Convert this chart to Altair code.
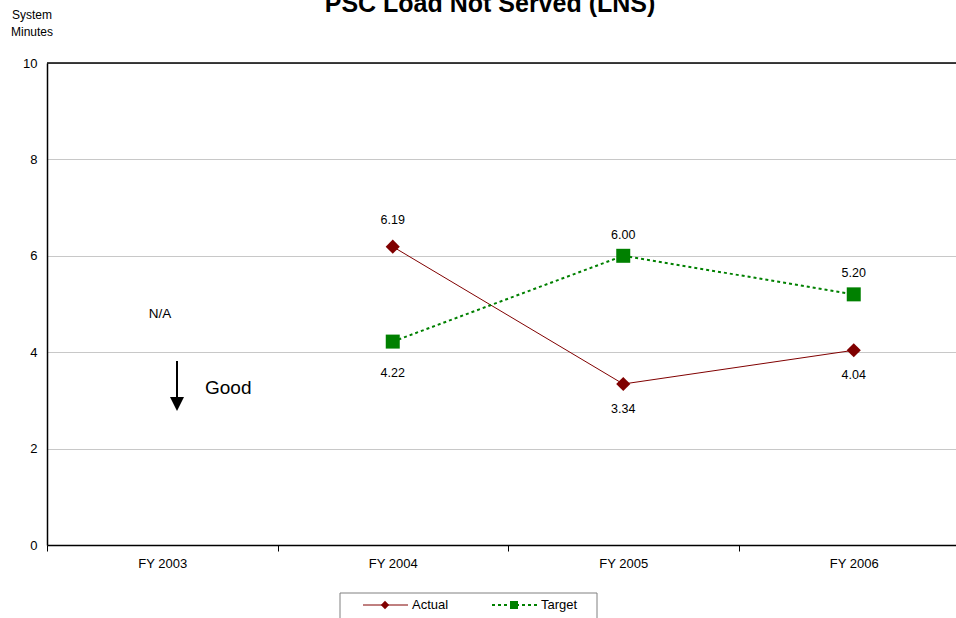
import altair as alt
import pandas as pd

# Fiscal years on the category axis
years = ["FY 2003", "FY 2004", "FY 2005", "FY 2006"]
# System minutes of load not served (no value for FY 2003)
actual = [None, 6.19, 3.34, 4.04]
target = [None, 4.22, 6.00, 5.20]

FONT = "Liberation Sans"
RED = "#800000"
GREEN = "#008000"

rows = []
for i, yr in enumerate(years):
    for name, vals, other in (("Actual", actual, target), ("Target", target, actual)):
        v = vals[i]
        if v is None:
            continue
        o = other[i]
        pos = "above" if (o is None or v >= o) else "below"
        rows.append({"year": yr, "series": name, "value": v,
                     "label": f"{v:.2f}", "pos": pos})
df = pd.DataFrame(rows)

PLOT_W, PLOT_H = 909, 482
BAND_RANGE = [0, 922]

x_enc = alt.X(
    "year:N",
    sort=years,
    scale=alt.Scale(domain=years, range=BAND_RANGE, paddingInner=0, paddingOuter=0),
    axis=alt.Axis(
        title=None, labelAngle=0, tickBand="extent", domainColor="#000000",
        domainWidth=1.5, tickColor="#000000", tickSize=6, labelPadding=6,
        labelFont=FONT, labelFontSize=13, labelColor="#000000",
    ),
)
y_enc = alt.Y(
    "value:Q",
    scale=alt.Scale(domain=[0, 10], nice=False),
    axis=alt.Axis(
        title=None, values=[0, 2, 4, 6, 8, 10], grid=True, gridColor="#c8c8c8",
        gridWidth=1, domainColor="#000000", domainWidth=1.5, ticks=False,
        labelPadding=10, labelFont=FONT, labelFontSize=13, labelColor="#000000",
    ),
)

base = alt.Chart(df)

actual_line = base.transform_filter(alt.datum.series == "Actual").mark_line(
    color=RED, strokeWidth=1
).encode(x=x_enc, y=y_enc)
target_line = base.transform_filter(alt.datum.series == "Target").mark_line(
    color=GREEN, strokeWidth=2, strokeDash=[3, 3]
).encode(x=x_enc, y=y_enc)

actual_pts = base.transform_filter(alt.datum.series == "Actual").mark_point(
    shape="diamond", size=200, filled=True, color=RED, opacity=1
).encode(x=x_enc, y=y_enc)
target_pts = base.transform_filter(alt.datum.series == "Target").mark_point(
    shape="square", size=196, filled=True, color=GREEN, opacity=1
).encode(x=x_enc, y=y_enc)

label_layers = []
offsets = {("Actual", "above"): -27, ("Actual", "below"): 25,
           ("Target", "above"): -21, ("Target", "below"): 31}
for (s, p), dy in offsets.items():
    label_layers.append(
        base.transform_filter((alt.datum.series == s) & (alt.datum.pos == p))
        .mark_text(font=FONT, fontSize=12.5, color="#000000", dy=dy, baseline="middle")
        .encode(x=x_enc, y=y_enc, text="label:N")
    )

one = pd.DataFrame({"k": [0]})


def note(text, x, y, size=12, weight="normal", align="center"):
    return alt.Chart(one).mark_text(
        text=text, font=FONT, fontSize=size, fontWeight=weight, align=align,
        baseline="alphabetic", color="#000000"
    ).encode(x=alt.value(x), y=alt.value(y))


# Top frame line at 10
top_line = alt.Chart(one).mark_rule(color="#000000", strokeWidth=1.5).encode(
    x=alt.value(0), x2=alt.value(PLOT_W), y=alt.value(0)
)

title = note("PSC Load Not Served (LNS)", 443, -51, size=25, weight="bold")
ytitle1 = note("System", -15, -44, size=12)
ytitle2 = note("Minutes", -15, -27, size=12)
na_text = note("N/A", 113, 255, size=13.5)
good_text = note("Good", 158, 331, size=19, align="left")

arrow_shaft = alt.Chart(one).mark_rule(color="#000000", strokeWidth=2).encode(
    x=alt.value(130), y=alt.value(298), y2=alt.value(336)
)
arrow_head = alt.Chart(one).mark_point(
    shape="M-1,-1L1,-1L0,1Z", size=196, filled=True, color="#000000", opacity=1
).encode(x=alt.value(130), y=alt.value(341))

# Legend drawn as a boxed key
legend_box = alt.Chart(one).mark_rect(fill="#ffffff", stroke="#808080", strokeWidth=1).encode(
    x=alt.value(293), x2=alt.value(550), y=alt.value(530), y2=alt.value(570)
)
leg_a_line = alt.Chart(one).mark_rule(color=RED, strokeWidth=1).encode(
    x=alt.value(316), x2=alt.value(361), y=alt.value(542)
)
leg_a_pt = alt.Chart(one).mark_point(
    shape="diamond", size=70, filled=True, color=RED, opacity=1
).encode(x=alt.value(338), y=alt.value(542))
leg_a_txt = note("Actual", 365, 546, size=13, align="left")
leg_t_line = alt.Chart(one).mark_rule(color=GREEN, strokeWidth=2, strokeDash=[3, 3]).encode(
    x=alt.value(445), x2=alt.value(490), y=alt.value(542)
)
leg_t_pt = alt.Chart(one).mark_point(
    shape="square", size=64, filled=True, color=GREEN, opacity=1
).encode(x=alt.value(467), y=alt.value(542))
leg_t_txt = note("Target", 494, 546, size=13, align="left")

chart = alt.layer(
    actual_line, target_line, actual_pts, target_pts, *label_layers,
    top_line, title, ytitle1, ytitle2, na_text, good_text, arrow_shaft, arrow_head,
    legend_box, leg_a_line, leg_a_pt, leg_a_txt, leg_t_line, leg_t_pt, leg_t_txt,
).properties(
    width=PLOT_W, height=PLOT_H,
    padding={"left": 47, "top": 63, "right": 0, "bottom": 73},
    autosize="none",
).configure_view(stroke=None).configure(background="#ffffff")

chart.save("out.html", embed_options={"renderer": "svg", "actions": False})
